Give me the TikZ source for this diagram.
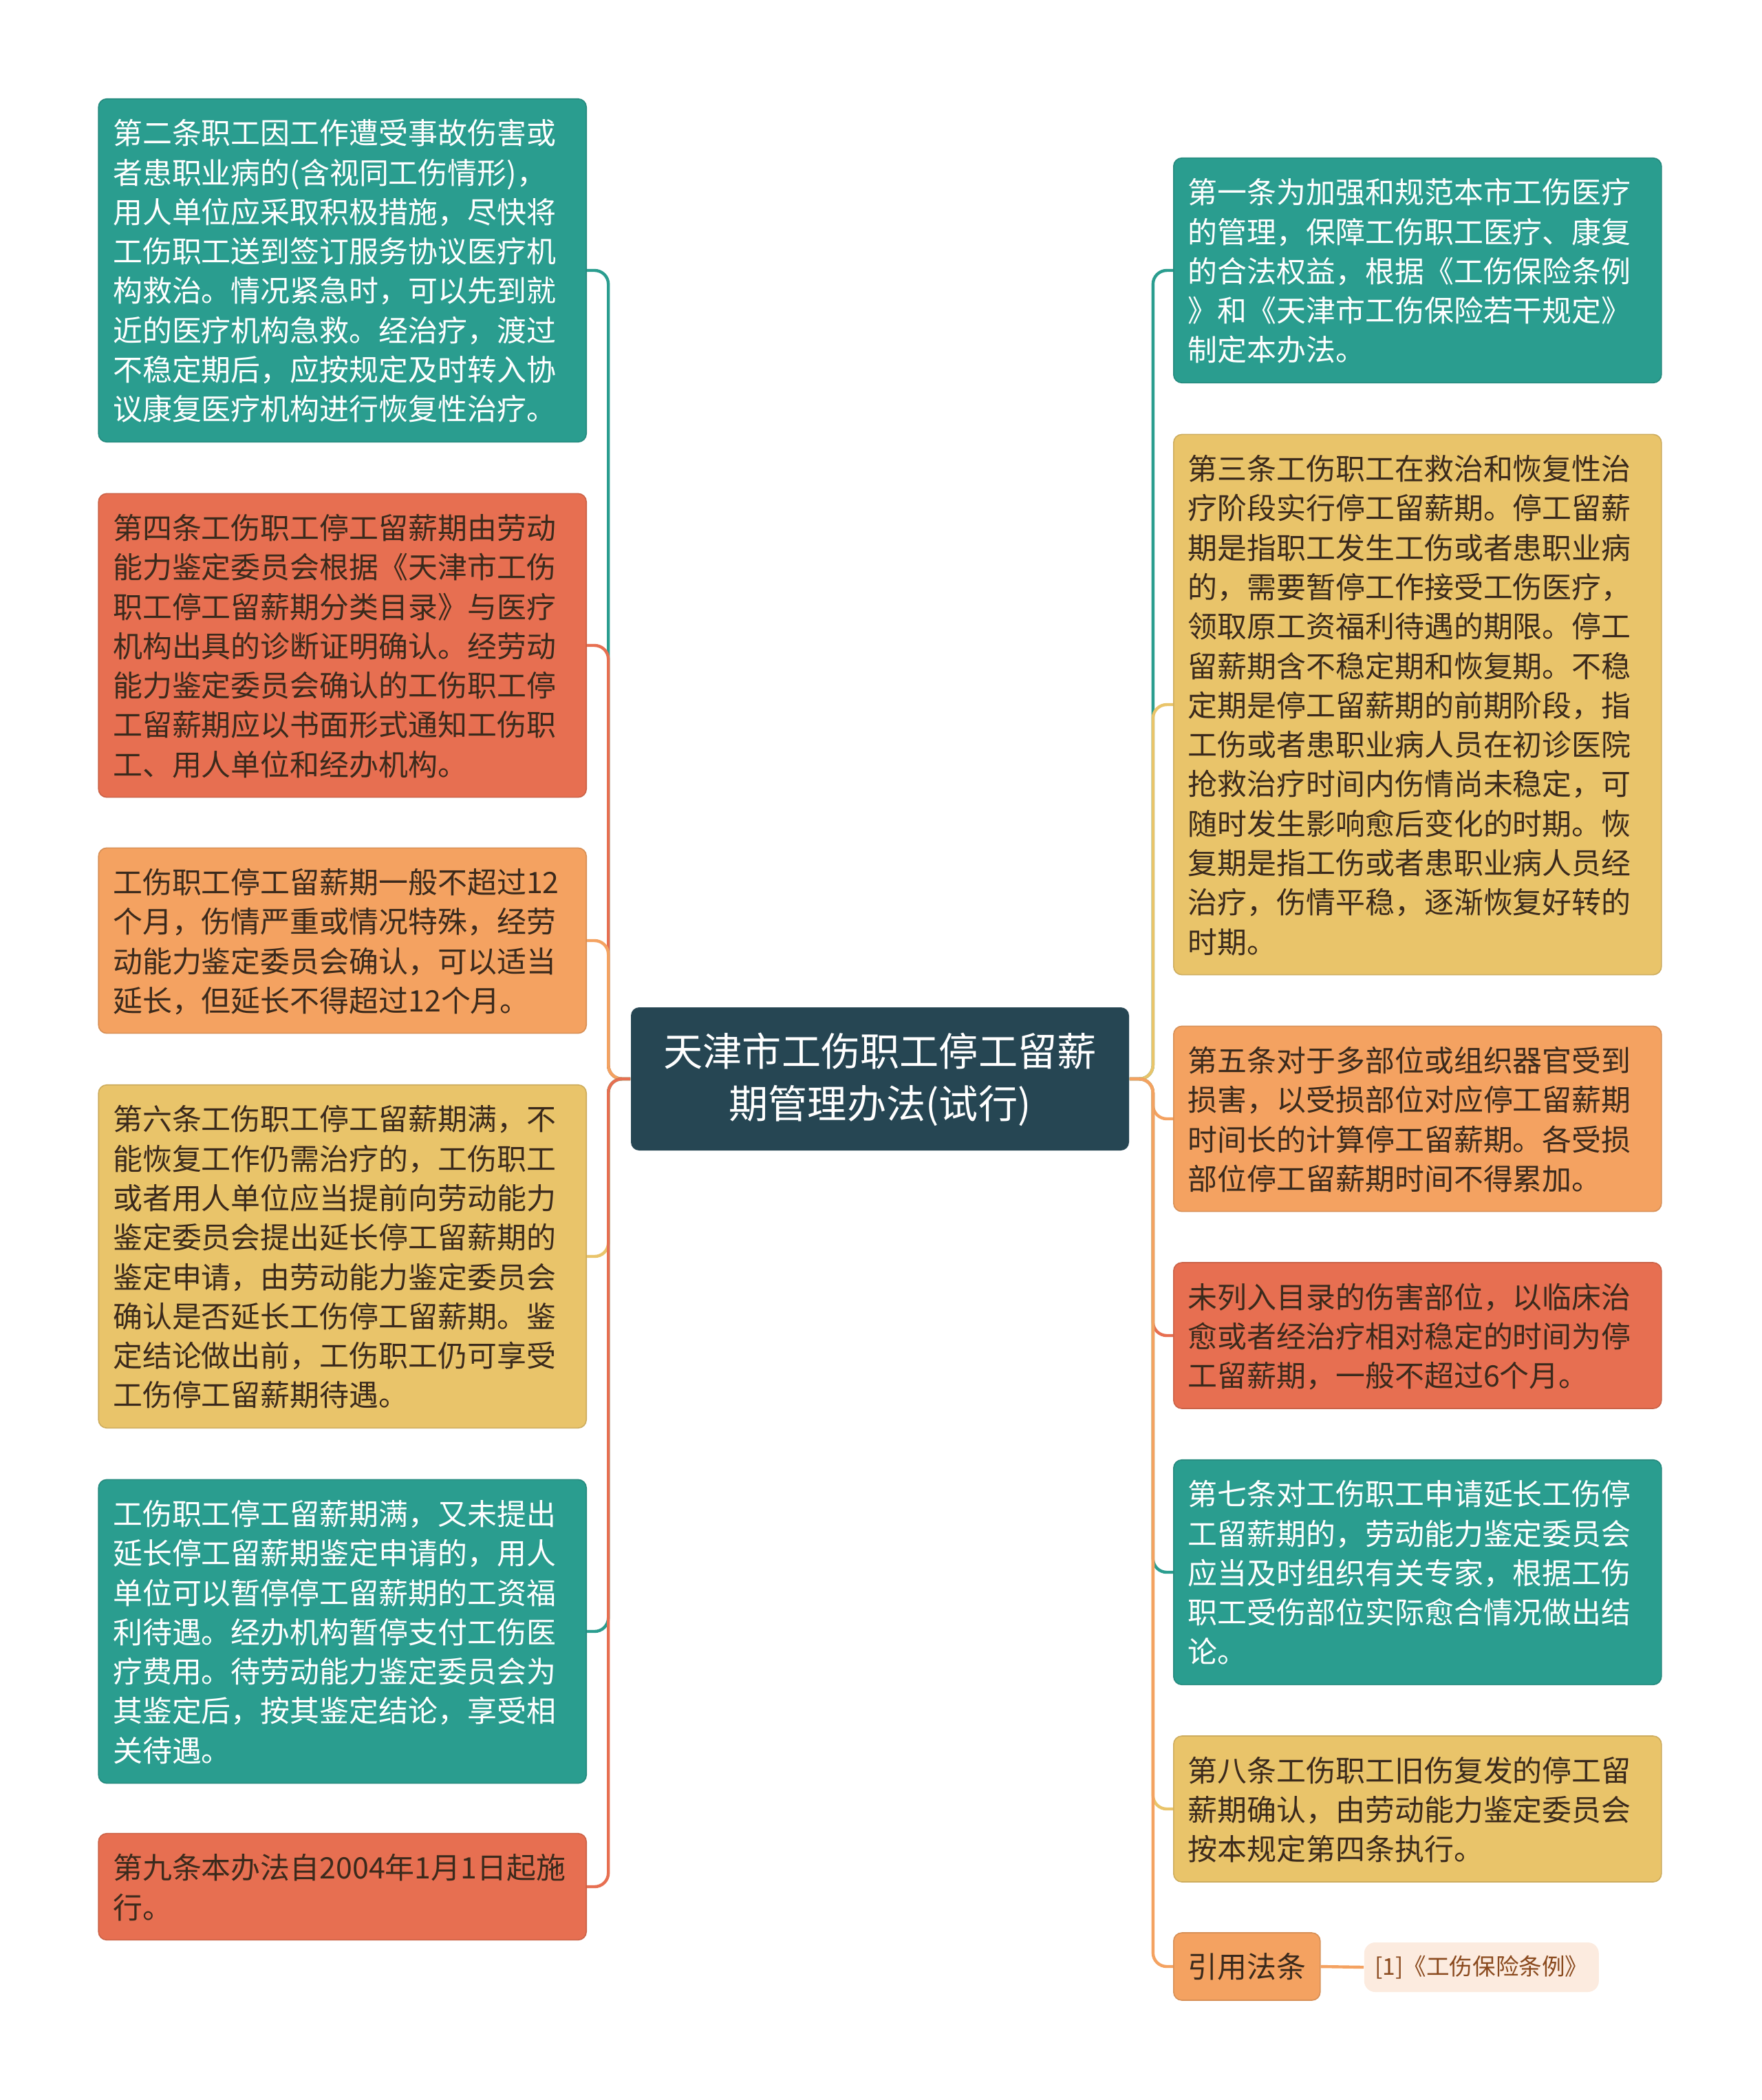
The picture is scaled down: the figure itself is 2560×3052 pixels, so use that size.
\documentclass[tikz,border=0pt]{standalone}
\usepackage{xcolor}
\usepackage{fontspec}
\setmainfont{Noto Sans CJK SC}
\usepackage{tikz}

\definecolor{mapTeal}{HTML}{2A9D8F}
\definecolor{mapRed}{HTML}{E76F51}
\definecolor{mapOrange}{HTML}{F4A261}
\definecolor{mapYellow}{HTML}{E9C46A}
\definecolor{mapNavy}{HTML}{264653}
\definecolor{mapInk}{HTML}{3B2A1C}
\definecolor{mapPeach}{HTML}{FCEBDF}
\definecolor{mapBrown}{HTML}{8A4A1E}

% struts that push the text a little lower in its box
\newcommand{\cardtop}{\rule[-4.3pt]{0pt}{15.8pt}}
\newcommand{\cardend}{\rule[-2.84pt]{0pt}{1pt}}
\newcommand{\hubtop}{\rule[-5.7pt]{0pt}{20pt}}
\newcommand{\hubend}{\rule[-4.7pt]{0pt}{1pt}}

\tikzset{
  card/.style={rounded corners=3pt, draw=#1!88!black, line width=0.4pt, fill=#1,
    text=mapInk, inner xsep=5.25pt, inner ysep=5pt, text width=166.75pt, align=left,
    font=\fontsize{10.73}{14.33}\selectfont,
    execute at begin node=\cardtop, execute at end node=\cardend},
  hub/.style={rounded corners=3pt, fill=mapNavy, text=white, text width=158pt,
    align=center, minimum width=181pt, minimum height=52pt,
    font=\fontsize{14.3}{19}\selectfont,
    execute at begin node=\hubtop, execute at end node=\hubend},
  tag/.style={rounded corners=3pt, draw=mapOrange!88!black, line width=0.4pt,
    fill=mapOrange, text=mapInk, minimum width=53.25pt, minimum height=24.5pt,
    inner sep=0pt, font=\fontsize{10.73}{14.33}\selectfont},
  leaf/.style={rounded corners=4pt, fill=mapPeach, text=mapBrown,
    minimum width=85.25pt, minimum height=18pt, inner sep=0pt,
    font=\fontsize{8.4}{10}\selectfont},
  link/.style={line width=1.1pt, rounded corners=5pt, draw=#1},
}

\begin{document}
\begin{tikzpicture}[x=0.25pt,y=-0.25pt]
        % Page
        \fill[white] (0,0) rectangle (2560,3052);
        \useasboundingbox (0,0) rectangle (2560,3052);

        % Central topic
        \node[hub] (c) at (1279,1568) {天津市工伤职工停工留薪\\期管理办法(试行)};

        % Left column
        \node[card=mapTeal, text=white, anchor=east] (l1) at (853,393) {第二条职工因工作遭受事故伤害或\\者患职业病的(含视同工伤情形)，\\用人单位应采取积极措施，尽快将\\工伤职工送到签订服务协议医疗机\\构救治。情况紧急时，可以先到就\\近的医疗机构急救。经治疗，渡过\\不稳定期后，应按规定及时转入协\\议康复医疗机构进行恢复性治疗。};
        \node[card=mapRed, anchor=east] (l2) at (853,938) {第四条工伤职工停工留薪期由劳动\\能力鉴定委员会根据《天津市工伤\\职工停工留薪期分类目录》与医疗\\机构出具的诊断证明确认。经劳动\\能力鉴定委员会确认的工伤职工停\\工留薪期应以书面形式通知工伤职\\工、用人单位和经办机构。};
        \node[card=mapOrange, anchor=east] (l3) at (853,1367) {工伤职工停工留薪期一般不超过12\\个月，伤情严重或情况特殊，经劳\\动能力鉴定委员会确认，可以适当\\延长，但延长不得超过12个月。};
        \node[card=mapYellow, anchor=east] (l4) at (853,1826) {第六条工伤职工停工留薪期满，不\\能恢复工作仍需治疗的，工伤职工\\或者用人单位应当提前向劳动能力\\鉴定委员会提出延长停工留薪期的\\鉴定申请，由劳动能力鉴定委员会\\确认是否延长工伤停工留薪期。鉴\\定结论做出前，工伤职工仍可享受\\工伤停工留薪期待遇。};
        \node[card=mapTeal, text=white, anchor=east] (l5) at (853,2371) {工伤职工停工留薪期满，又未提出\\延长停工留薪期鉴定申请的，用人\\单位可以暂停停工留薪期的工资福\\利待遇。经办机构暂停支付工伤医\\疗费用。待劳动能力鉴定委员会为\\其鉴定后，按其鉴定结论，享受相\\关待遇。};
        \node[card=mapRed, anchor=east] (l6) at (853,2742) {第九条本办法自2004年1月1日起施\\行。};

        % Right column
        \node[card=mapTeal, text=white, anchor=west] (r1) at (1705,393) {第一条为加强和规范本市工伤医疗\\的管理，保障工伤职工医疗、康复\\的合法权益，根据《工伤保险条例\\》和《天津市工伤保险若干规定》\\制定本办法。};
        \node[card=mapYellow, anchor=west] (r2) at (1705,1024) {第三条工伤职工在救治和恢复性治\\疗阶段实行停工留薪期。停工留薪\\期是指职工发生工伤或者患职业病\\的，需要暂停工作接受工伤医疗，\\领取原工资福利待遇的期限。停工\\留薪期含不稳定期和恢复期。不稳\\定期是停工留薪期的前期阶段，指\\工伤或者患职业病人员在初诊医院\\抢救治疗时间内伤情尚未稳定，可\\随时发生影响愈后变化的时期。恢\\复期是指工伤或者患职业病人员经\\治疗，伤情平稳，逐渐恢复好转的\\时期。};
        \node[card=mapOrange, anchor=west] (r3) at (1705,1626) {第五条对于多部位或组织器官受到\\损害，以受损部位对应停工留薪期\\时间长的计算停工留薪期。各受损\\部位停工留薪期时间不得累加。};
        \node[card=mapRed, anchor=west] (r4) at (1705,1941) {未列入目录的伤害部位，以临床治\\愈或者经治疗相对稳定的时间为停\\工留薪期，一般不超过6个月。};
        \node[card=mapTeal, text=white, anchor=west] (r5) at (1705,2285) {第七条对工伤职工申请延长工伤停\\工留薪期的，劳动能力鉴定委员会\\应当及时组织有关专家，根据工伤\\职工受伤部位实际愈合情况做出结\\论。};
        \node[card=mapYellow, anchor=west] (r6) at (1705,2629) {第八条工伤职工旧伤复发的停工留\\薪期确认，由劳动能力鉴定委员会\\按本规定第四条执行。};
        \node[tag, anchor=west] (r7) at (1705,2858) {引用法条};
        \node[leaf, anchor=west] (law) at (1982,2859) {[1]《工伤保险条例》};

        % Left branches
        \draw[link=mapTeal] (c.west) -- ++(-32,0) |- (l1.east);
        \draw[link=mapRed] (c.west) -- ++(-32,0) |- (l2.east);
        \draw[link=mapOrange] (c.west) -- ++(-32,0) |- (l3.east);
        \draw[link=mapYellow] (c.west) -- ++(-32,0) |- (l4.east);
        \draw[link=mapTeal] (c.west) -- ++(-32,0) |- (l5.east);
        \draw[link=mapRed] (c.west) -- ++(-32,0) |- (l6.east);

        % Right branches
        \draw[link=mapTeal] (c.east) -- ++(34,0) |- (r1.west);
        \draw[link=mapYellow] (c.east) -- ++(34,0) |- (r2.west);
        \draw[link=mapOrange] (c.east) -- ++(34,0) |- (r3.west);
        \draw[link=mapRed] (c.east) -- ++(34,0) |- (r4.west);
        \draw[link=mapTeal] (c.east) -- ++(34,0) |- (r5.west);
        \draw[link=mapYellow] (c.east) -- ++(34,0) |- (r6.west);
        \draw[link=mapOrange] (c.east) -- ++(34,0) |- (r7.west);
        \draw[link=mapOrange] (r7.east) -- (law.west);
    \end{tikzpicture}
\end{document}
